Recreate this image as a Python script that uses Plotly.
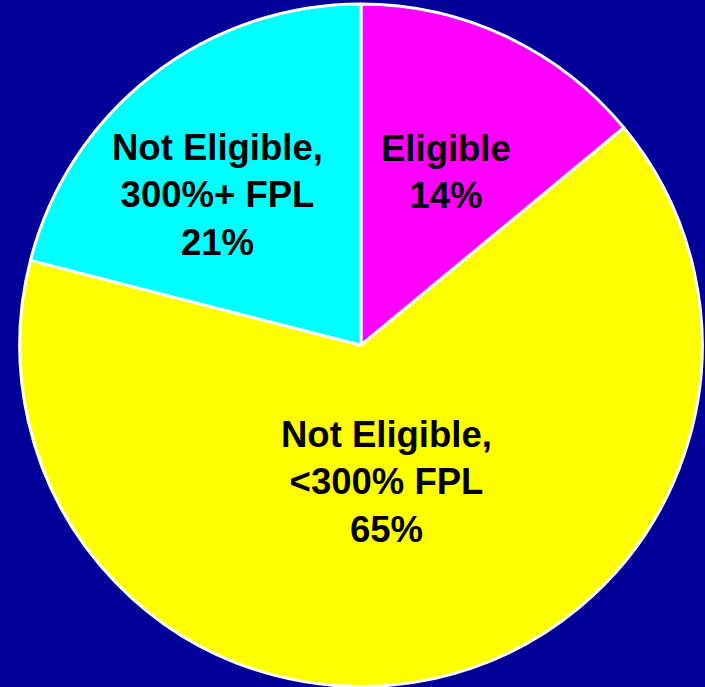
import plotly.graph_objects as go

# ---------------------------------------------
# Data
# ---------------------------------------------

labels = [
    "Eligible",
    "Not Eligible,<br><300% FPL",
    "Not Eligible,<br>300%+ FPL",
]

values = [14, 65, 21]

colors = ["#FF00FF", "#FFFF00", "#00FFFF"]

# label anchor points (paper coords) for the slice captions
label_xy = [(0.633, 0.750), (0.548, 0.298), (0.309, 0.716)]

# ---------------------------------------------
# Figure
# ---------------------------------------------

fig = go.Figure()

fig.add_trace(
    go.Pie(
        labels=labels,
        values=values,
        sort=False,
        direction="clockwise",
        rotation=0,
        marker=dict(
            colors=colors,
            line=dict(color="white", width=3),
        ),
        textinfo="none",
        domain=dict(x=[0.028, 0.996], y=[0.0, 0.995]),
        showlegend=False,
        hoverinfo="label+percent",
    )
)

# Slice captions

for lab, val, (ax, ay) in zip(labels, values, label_xy):
    fig.add_annotation(
        x=ax,
        y=ay,
        xref="paper",
        yref="paper",
        xanchor="center",
        yanchor="middle",
        text=f"{lab}<br>{val}%",
        showarrow=False,
        font=dict(
            family="Liberation Sans, Arial, sans-serif",
            size=36.5,
            color="black",
            weight="bold",
        ),
    )

fig.update_layout(
    width=705,
    height=687,
    paper_bgcolor="#000099",
    plot_bgcolor="#000099",
    margin=dict(l=0, r=0, t=0, b=0),
)

fig.write_html(
    "out.html",
    config={"displayModeBar": False},
    post_script="document.body.style.margin='0';",
)
